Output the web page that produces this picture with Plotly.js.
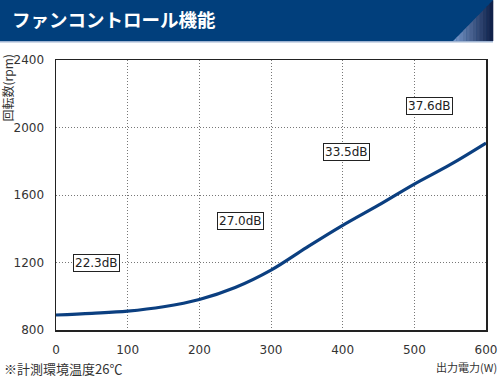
<!DOCTYPE html>
<html>
<head>
<meta charset="utf-8">
<script src="https://cdn.plot.ly/plotly-3.0.1.min.js"></script>
<style>
html,body{margin:0;padding:0;background:#fff;}
#chart{width:500px;height:378px;}
</style>
</head>
<body>
<div id="chart"></div>
<script>
// ---- data ----
const outputPower = [0, 50, 100, 150, 200, 250, 300, 350, 400, 450, 500, 550, 600];
const fanSpeed    = [889, 899, 912, 938, 981, 1052, 1155, 1290, 1420, 1540, 1665, 1780, 1908];
const noiseLabels = ["22.3dB", "27.0dB", "33.5dB", "37.6dB"];
const noiseX      = [56, 257, 405, 521];
const noiseY      = [1200, 1443, 1857, 2130];
const xTicks = [0, 100, 200, 300, 400, 500, 600];
const yTicks = [800, 1200, 1600, 2000, 2400];

// ---- layout helpers (pixel -> paper) ----
const W = 500, H = 378, L = 56, R = 14, T = 60, B = 48;
const PW = W - L - R, PH = H - T - B;
const px = v => (v - L) / PW;
const py = v => (H - B - v) / PH;

const shapes = [];
// banner
shapes.push({type:'rect', xref:'paper', yref:'paper', x0:px(0), x1:px(493), y0:py(41), y1:py(0),
  fillcolor:'#013f7c', line:{width:0}, layer:'below'});
// gradient triangle
const nS = 12, ax = 453, bx = 493, by0 = 41;
const c0 = [122,156,207], c1 = [12,28,68];
for (let i = 0; i < nS; i++) {
  const xa = ax + (bx - ax) * i / nS, xb = ax + (bx - ax) * (i + 1) / nS;
  const ta = by0 - (xa - ax) * 41 / 40, tb = by0 - (xb - ax) * 41 / 40;
  const f = (i + 0.5) / nS;
  const col = 'rgb(' + c0.map((c, k) => Math.round(c + (c1[k] - c) * f)).join(',') + ')';
  shapes.push({type:'path', xref:'paper', yref:'paper',
    path:`M${px(xa)},${py(by0)} L${px(xa)},${py(ta)} L${px(xb+0.3)},${py(tb)} L${px(xb+0.3)},${py(by0)} Z`,
    fillcolor:col, line:{width:0}, layer:'below'});
}
// light line under banner
shapes.push({type:'line', xref:'paper', yref:'paper', x0:px(0), x1:px(493), y0:py(41.8), y1:py(41.8),
  line:{color:'#9fb4d2', width:1.5}, layer:'below'});

const annotations = noiseLabels.map((t, i) => ({
  x: noiseX[i], y: noiseY[i], xref:'x', yref:'y', text: t, showarrow:false,
  font:{family:'DejaVu Sans', size:12, color:'#222'},
  bgcolor:'#ffffff', bordercolor:'#222', borderwidth:1, borderpad:1
}));
annotations.push({text:'回転数(rpm)', xref:'paper', yref:'paper', x:px(7), y:py(53), xanchor:'center', yanchor:'top',
  textangle:-90, showarrow:false, font:{family:'Noto Sans CJK JP', size:12, color:'#333'}});
annotations.push({text:'出力電力(W)', xref:'paper', yref:'paper', x:px(499), y:py(367), xanchor:'right', yanchor:'middle',
  showarrow:false, font:{family:'Noto Sans CJK JP', size:11, color:'#333'}});
annotations.push({text:'※計測環境温度26℃', xref:'paper', yref:'paper', x:px(2), y:py(368), xanchor:'left', yanchor:'middle',
  showarrow:false, font:{family:'Noto Sans CJK JP', size:13, color:'#333'}});

const trace = {
  x: outputPower, y: fanSpeed, type:'scatter', mode:'lines',
  line:{color:'#0b3f80', width:3.2, shape:'spline', smoothing:1},
  hoverinfo:'skip'
};

const layout = {
  width: W, height: H,
  margin:{l:L, r:R, t:T, b:B, pad:0},
  paper_bgcolor:'#ffffff', plot_bgcolor:'#ffffff',
  showlegend:false,
  title:{text:'ファンコントロール機能', xref:'container', yref:'container', x:12/W, xanchor:'left',
    y:1 - 21/H, yanchor:'middle', font:{family:'Noto Sans CJK JP', size:18.5, color:'#ffffff', weight:'bold'}},
  xaxis:{range:[0,600], tickvals:xTicks, ticks:'', showline:true, mirror:true, linecolor:'#222', linewidth:1.5,
    showgrid:true, gridcolor:'#777777', griddash:'1px,2px', gridwidth:1, zeroline:false,
    ticklabelstandoff:8, tickfont:{family:'DejaVu Sans', size:12, color:'#333'}, fixedrange:true},
  yaxis:{range:[800,2400], tickvals:yTicks, ticks:'', showline:true, mirror:true, linecolor:'#222', linewidth:1.5,
    showgrid:true, gridcolor:'#777777', griddash:'1px,2px', gridwidth:1, zeroline:false,
    ticklabelstandoff:8, tickfont:{family:'DejaVu Sans', size:12, color:'#333'}, fixedrange:true},
  shapes: shapes,
  annotations: annotations
};

Plotly.newPlot('chart', [trace], layout, {displayModeBar:false, staticPlot:true});
</script>
</body>
</html>
